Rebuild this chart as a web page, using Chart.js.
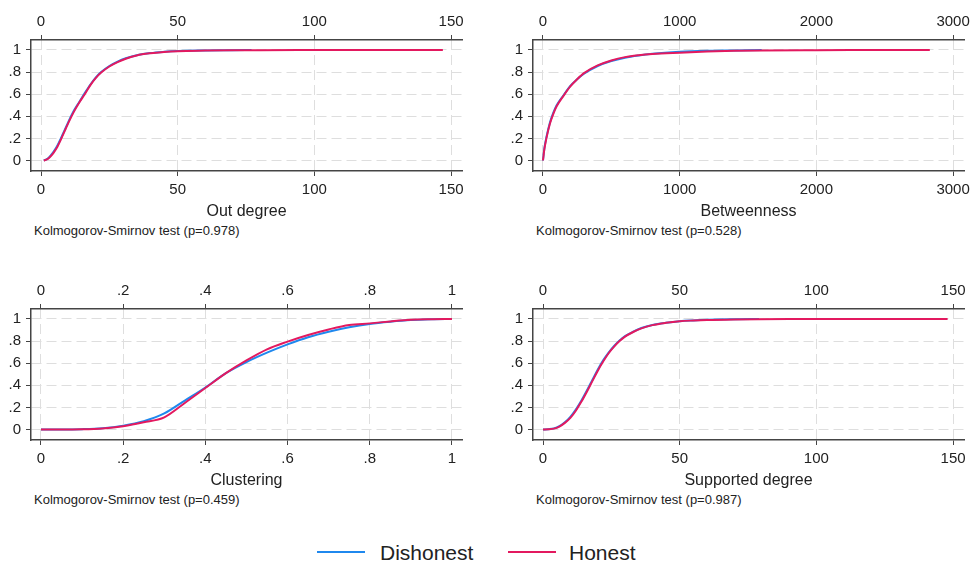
<!DOCTYPE html>
<html>
<head>
<meta charset="utf-8">
<script src="https://cdn.jsdelivr.net/npm/chart.js@4/dist/chart.umd.min.js"></script>
<style>
  body { margin: 0; background: #fff; width: 973px; height: 562px; overflow: hidden;
         font-family: "Liberation Sans", Arial, sans-serif; color: #222; }
  canvas { position: absolute; }
  .note { position: absolute; font-size: 13px; line-height: 14px; white-space: nowrap; }
  .key { position: absolute; height: 2px; width: 48px; top: 551px; }
  .keytxt { position: absolute; font-size: 21px; line-height: 24px; top: 541px; }
</style>
</head>
<body>
<canvas id="outChart" width="490" height="222" style="left:0;top:0"></canvas>
<canvas id="betChart" width="490" height="222" style="left:502px;top:0"></canvas>
<canvas id="cluChart" width="490" height="222" style="left:0;top:269px"></canvas>
<canvas id="supChart" width="490" height="222" style="left:502px;top:269px"></canvas>

<div class="note" style="left:34px;top:224px">Kolmogorov-Smirnov test (p=0.978)</div>
<div class="note" style="left:536px;top:224px">Kolmogorov-Smirnov test (p=0.528)</div>
<div class="note" style="left:34px;top:493px">Kolmogorov-Smirnov test (p=0.459)</div>
<div class="note" style="left:536px;top:493px">Kolmogorov-Smirnov test (p=0.987)</div>

<div class="key" style="left:317px;background:#1f88ee"></div>
<div class="keytxt" style="left:380px">Dishonest</div>
<div class="key" style="left:508px;background:#e3195f"></div>
<div class="keytxt" style="left:569px">Honest</div>

<script>
// ======================================================
// DATA (cumulative distributions)
// ======================================================
const yTicks = [0, 0.2, 0.4, 0.6, 0.8, 1];
const degreeTicks = [0, 50, 100, 150];
const betweenTicks = [0, 1000, 2000, 3000];
const clusterTicks = [0, 0.2, 0.4, 0.6, 0.8, 1];

// Out degree
const outDisX = [1,2,3,4,5,6,7,8,9,10,12,14,16,18,20,22,25,28,31,35,40,45,50,60,70,77];
const outDisY = [0,0.01,0.03,0.06,0.095,0.135,0.185,0.24,0.295,0.35,0.45,0.53,0.61,0.685,0.75,0.80,0.855,0.895,0.925,0.952,0.972,0.983,0.99,0.995,0.998,1];
const outHonX = [1,2,3,4,5,6,7,8,9,10,12,14,16,18,20,22,25,28,31,35,40,45,50,60,70,80,100,120,147];
const outHonY = [0,0.008,0.025,0.05,0.085,0.125,0.175,0.23,0.285,0.34,0.44,0.525,0.6,0.68,0.745,0.795,0.85,0.89,0.92,0.95,0.97,0.982,0.989,0.994,0.997,0.998,0.999,0.9995,1];

// Betweenness
const betDisX = [0,10,25,50,75,100,150,200,250,300,400,500,600,700,800,1000,1200,1400,1600];
const betDisY = [0,0.11,0.21,0.34,0.43,0.50,0.59,0.675,0.735,0.785,0.855,0.9,0.93,0.95,0.965,0.983,0.992,0.996,1];
const betHonX = [0,10,25,50,75,100,150,200,250,300,400,500,600,700,800,1000,1200,1400,1600,2000,2400,2830];
const betHonY = [0,0.1,0.2,0.33,0.42,0.49,0.585,0.67,0.735,0.79,0.86,0.905,0.935,0.952,0.963,0.975,0.985,0.992,0.996,0.998,0.999,1];

// Clustering
const cluX = [0,0.05,0.1,0.15,0.2,0.25,0.3,0.35,0.4,0.45,0.5,0.55,0.6,0.65,0.7,0.75,0.8,0.85,0.9,0.95,1];
const cluDisY = [0,0,0.003,0.012,0.035,0.075,0.145,0.262,0.38,0.51,0.61,0.695,0.77,0.835,0.885,0.925,0.955,0.975,0.99,0.997,1];
const cluHonY = [0,0,0.002,0.01,0.03,0.065,0.11,0.24,0.375,0.51,0.625,0.725,0.795,0.855,0.905,0.945,0.96,0.978,0.993,0.998,1];

// Supported degree
const supDisX = [0,2,4,6,8,10,12,14,16,18,20,22,24,26,28,30,33,36,40,45,50,55,60,70,79];
const supDisY = [0,0.003,0.01,0.03,0.065,0.115,0.18,0.26,0.35,0.445,0.54,0.625,0.695,0.755,0.805,0.845,0.885,0.918,0.946,0.966,0.98,0.987,0.992,0.997,1];
const supHonX = [0,2,4,6,8,10,12,14,16,18,20,22,24,26,28,30,33,36,40,45,50,55,60,70,79,90,110,130,148];
const supHonY = [0,0.002,0.008,0.027,0.06,0.105,0.17,0.25,0.34,0.435,0.53,0.615,0.69,0.75,0.8,0.84,0.882,0.915,0.944,0.965,0.979,0.986,0.991,0.996,0.998,0.999,0.9995,0.9998,1];

const BLUE = "#1f88ee";
const RED = "#e3195f";
const AXIS = "#444";
const GRID = "#dedede";

Chart.defaults.font.family = '"Liberation Sans", Arial, sans-serif';
Chart.defaults.color = "#222";

// 0.2 -> ".2", 1 -> "1", 3000 -> "3000"
function fmt(v) {
    if (v === 0) return "0";
    if (Math.abs(v) < 1) return String(v).replace("0.", ".");
    return String(v);
}

function pts(xs, ys) {
    return xs.map((x, i) => ({ x: x, y: ys[i] }));
}

function fixTicks(list) {
    return function (scale) {
        scale.ticks = list.map(v => ({ value: v }));
    };
}

// ======================================================
// One CDF panel
// ======================================================
function renderPanel(id, p) {
    const ctx = document.getElementById(id).getContext("2d");

    new Chart(ctx, {
        type: "scatter",
        data: {
            datasets: [
                {
                    label: "Dishonest",
                    data: pts(p.disX, p.disY),
                    borderColor: BLUE,
                    backgroundColor: BLUE,
                    borderWidth: 2,
                    showLine: true,
                    pointRadius: 0,
                    cubicInterpolationMode: "monotone",
                    order: 2
                },
                {
                    label: "Honest",
                    data: pts(p.honX, p.honY),
                    borderColor: RED,
                    backgroundColor: RED,
                    borderWidth: 2,
                    showLine: true,
                    pointRadius: 0,
                    cubicInterpolationMode: "monotone",
                    order: 1
                }
            ]
        },
        options: {
            responsive: false,
            animation: false,
            layout: { padding: { left: 0, right: 28, top: 0, bottom: 0 } },
            plugins: {
                legend: { display: false },
                tooltip: { enabled: false }
            },
            scales: {
                x: {
                    type: "linear",
                    position: "bottom",
                    min: p.xMin,
                    max: p.xMax,
                    afterBuildTicks: fixTicks(p.xTicks),
                    ticks: { callback: fmt, font: { size: 15 }, padding: 5, maxRotation: 0, autoSkip: false },
                    grid: { color: GRID, tickColor: AXIS, tickLength: 5, lineWidth: 1 },
                    border: { color: AXIS, width: 1.5, dash: [10, 5] },
                    title: { display: true, text: p.title, font: { size: 16 }, padding: { top: 0, bottom: 0.4 } },
                    afterFit: s => { s.height = 51; s.paddingLeft = 0; s.paddingRight = 0; }
                },
                x2: {
                    type: "linear",
                    position: "top",
                    min: p.xMin,
                    max: p.xMax,
                    afterBuildTicks: fixTicks(p.xTicks),
                    ticks: { callback: fmt, font: { size: 15 }, padding: 4, maxRotation: 0, autoSkip: false },
                    grid: { drawOnChartArea: false, tickColor: AXIS, tickLength: 5 },
                    border: { color: AXIS, width: 1.5 },
                    afterFit: s => { s.height = 40; s.paddingLeft = 0; s.paddingRight = 0; }
                },
                y: {
                    type: "linear",
                    min: -0.095,
                    max: 1.09,
                    afterBuildTicks: fixTicks(yTicks),
                    ticks: { callback: fmt, font: { size: 15 }, padding: 5 },
                    grid: { color: GRID, tickColor: AXIS, tickLength: 5, lineWidth: 1 },
                    border: { color: AXIS, width: 1.5, dash: [10, 5] },
                    afterFit: s => { s.width = 31; s.paddingTop = 0; s.paddingBottom = 0; }
                }
            }
        }
    });
}

renderPanel("outChart", {
    title: "Out degree", xMin: -3.66, xMax: 154, xTicks: degreeTicks,
    disX: outDisX, disY: outDisY, honX: outHonX, honY: outHonY
});
renderPanel("betChart", {
    title: "Betweenness", xMin: -73, xMax: 3080, xTicks: betweenTicks,
    disX: betDisX, disY: betDisY, honX: betHonX, honY: betHonY
});
renderPanel("cluChart", {
    title: "Clustering", xMin: -0.0243, xMax: 1.0245, xTicks: clusterTicks,
    disX: cluX, disY: cluDisY, honX: cluX, honY: cluHonY
});
renderPanel("supChart", {
    title: "Supported degree", xMin: -3.66, xMax: 154, xTicks: degreeTicks,
    disX: supDisX, disY: supDisY, honX: supHonX, honY: supHonY
});
</script>
</body>
</html>
